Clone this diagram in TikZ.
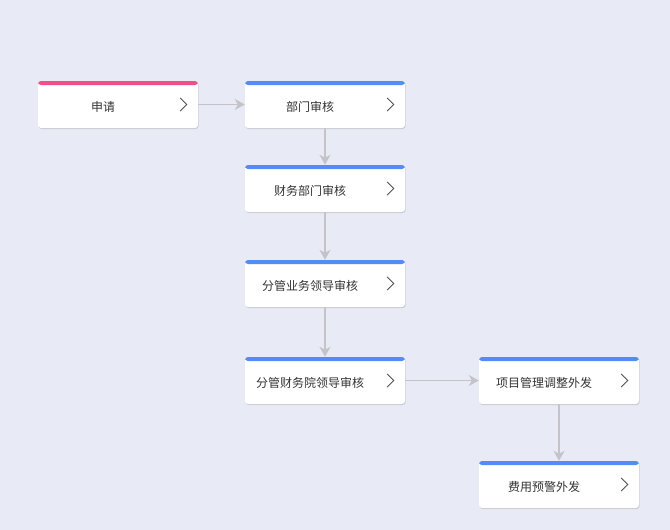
\documentclass[tikz,border=0pt]{standalone}
\usepackage{fontspec}
\newfontfamily\cjk{Noto Sans CJK SC}
\usetikzlibrary{arrows.meta,shadows}
\definecolor{bgc}{RGB}{232,235,246}
\definecolor{pinkbar}{RGB}{240,80,138}
\definecolor{bluebar}{RGB}{82,140,245}
\definecolor{arrc}{RGB}{196,196,200}
\definecolor{txtc}{RGB}{51,51,51}
\definecolor{chevc}{RGB}{80,80,90}
\tikzset{
  box/.style={minimum width=160pt, minimum height=47pt, inner sep=0pt,
    rounded corners=3pt, fill=white,
    drop shadow={shadow xshift=0.6pt, shadow yshift=-1pt, opacity=0.25, fill=black!60},
    path picture={\fill[#1] (path picture bounding box.north west) rectangle ([yshift=-4pt]path picture bounding box.north east);}},
  lbl/.style={font=\cjk\fontsize{12pt}{14pt}\selectfont, text=txtc, inner sep=0pt},
  chev/.style={draw=chevc, line width=0.9pt},
  arr/.style={draw=arrc, line width=1.7pt, -{Stealth[length=10pt,width=11pt,inset=3pt]}},
}
\newcommand{\chevat}[1]{\draw[chev] ([shift={(-18pt,6.5pt)}]#1.east) -- ([xshift=-11.5pt]#1.east) -- ([shift={(-18pt,-6.5pt)}]#1.east);}
\begin{document}
\begin{tikzpicture}[x=1pt,y=-1pt]
\fill[bgc] (0,0) rectangle (670,530);
\useasboundingbox (0,0) rectangle (670,530);

\node[box=pinkbar] (n1) at (118,104.5) {};
\node[box=bluebar] (n2) at (325,104.5) {};
\node[box=bluebar] (n3) at (325,188.5) {};
\node[box=bluebar] (n4) at (325,283.5) {};
\node[box=bluebar] (n5) at (325,380.5) {};
\node[box=bluebar] (n6) at (559,380.5) {};
\node[box=bluebar] (n7) at (559,484.5) {};

\node[lbl] (t1) at ([xshift=-15pt,yshift=-2pt]n1.center) {申请};
\node[lbl] (t2) at ([xshift=-15pt,yshift=-2pt]n2.center) {部门审核};
\node[lbl] (t3) at ([xshift=-15pt,yshift=-2pt]n3.center) {财务部门审核};
\node[lbl] (t4) at ([xshift=-15pt,yshift=-2pt]n4.center) {分管业务领导审核};
\node[lbl] (t5) at ([xshift=-15pt,yshift=-2pt]n5.center) {分管财务院领导审核};
\node[lbl] (t6) at ([xshift=-15pt,yshift=-2pt]n6.center) {项目管理调整外发};
\node[lbl] (t7) at ([xshift=-15pt,yshift=-2pt]n7.center) {费用预警外发};

\chevat{n1}\chevat{n2}\chevat{n3}\chevat{n4}\chevat{n5}\chevat{n6}\chevat{n7}

\draw[arr] (n1.east) -- (n2.west);
\draw[arr] (n2.south) -- (n3.north);
\draw[arr] (n3.south) -- (n4.north);
\draw[arr] (n4.south) -- (n5.north);
\draw[arr] (n5.east) -- (n6.west);
\draw[arr] (n6.south) -- (n7.north);
\end{tikzpicture}
\end{document}
